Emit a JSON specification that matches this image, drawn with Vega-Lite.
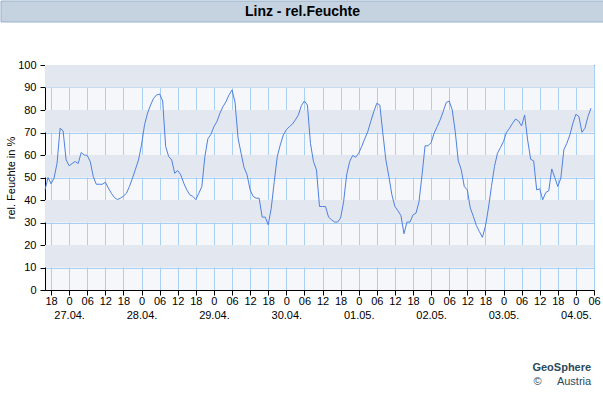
{
  "$schema": "https://vega.github.io/schema/vega-lite/v6.json",
  "padding": 0,
  "background": "white",
  "spacing": 35,
  "config": {
    "font": "Liberation Sans",
    "view": {"stroke": null},
    "axis": {
      "domainColor": "#000", "tickColor": "#000", "labelColor": "#000", "titleColor": "#000",
      "labelFont": "Liberation Sans", "titleFont": "Liberation Sans",
      "labelFontSize": 11, "titleFontSize": 11, "titleFontWeight": "normal",
      "tickSize": 5, "gridColor": "#a8d0f2", "gridOpacity": 1, "zindex": 1
    }
  },
  "datasets": {
    "head": [{"label": "Linz - rel.Feuchte"}],
    "bands": [{"lo": 10, "hi": 20}, {"lo": 30, "hi": 40}, {"lo": 50, "hi": 60}, {"lo": 70, "hi": 80}, {"lo": 90, "hi": 100}],
    "rh": [
      {"t": "2024-04-26T16:00Z", "v": 44.5}, {"t": "2024-04-26T17:00Z", "v": 50}, {"t": "2024-04-26T18:00Z", "v": 47.2}, {"t": "2024-04-26T19:00Z", "v": 49.7},
      {"t": "2024-04-26T20:00Z", "v": 56.4}, {"t": "2024-04-26T21:00Z", "v": 71.9}, {"t": "2024-04-26T22:00Z", "v": 70.7}, {"t": "2024-04-26T23:00Z", "v": 57.8},
      {"t": "2024-04-27T00:00Z", "v": 55.2}, {"t": "2024-04-27T01:00Z", "v": 56.2}, {"t": "2024-04-27T02:00Z", "v": 57.1}, {"t": "2024-04-27T03:00Z", "v": 56.2},
      {"t": "2024-04-27T04:00Z", "v": 61.1}, {"t": "2024-04-27T05:00Z", "v": 60}, {"t": "2024-04-27T06:00Z", "v": 59.8}, {"t": "2024-04-27T07:00Z", "v": 57.1},
      {"t": "2024-04-27T08:00Z", "v": 50.4}, {"t": "2024-04-27T09:00Z", "v": 47}, {"t": "2024-04-27T10:00Z", "v": 47}, {"t": "2024-04-27T11:00Z", "v": 47},
      {"t": "2024-04-27T12:00Z", "v": 47.9}, {"t": "2024-04-27T13:00Z", "v": 45.3}, {"t": "2024-04-27T14:00Z", "v": 43}, {"t": "2024-04-27T15:00Z", "v": 41.1},
      {"t": "2024-04-27T16:00Z", "v": 40.2}, {"t": "2024-04-27T17:00Z", "v": 40.8}, {"t": "2024-04-27T18:00Z", "v": 41.7}, {"t": "2024-04-27T19:00Z", "v": 43},
      {"t": "2024-04-27T20:00Z", "v": 46}, {"t": "2024-04-27T21:00Z", "v": 49.7}, {"t": "2024-04-27T22:00Z", "v": 53.7}, {"t": "2024-04-27T23:00Z", "v": 57.8},
      {"t": "2024-04-28T00:00Z", "v": 64.5}, {"t": "2024-04-28T01:00Z", "v": 73.4}, {"t": "2024-04-28T02:00Z", "v": 78.6}, {"t": "2024-04-28T03:00Z", "v": 82.2},
      {"t": "2024-04-28T04:00Z", "v": 85.2}, {"t": "2024-04-28T05:00Z", "v": 86.7}, {"t": "2024-04-28T06:00Z", "v": 87.1}, {"t": "2024-04-28T07:00Z", "v": 84},
      {"t": "2024-04-28T08:00Z", "v": 63.8}, {"t": "2024-04-28T09:00Z", "v": 59.3}, {"t": "2024-04-28T10:00Z", "v": 57.8}, {"t": "2024-04-28T11:00Z", "v": 51.9},
      {"t": "2024-04-28T12:00Z", "v": 53.1}, {"t": "2024-04-28T13:00Z", "v": 51.2}, {"t": "2024-04-28T14:00Z", "v": 47.5}, {"t": "2024-04-28T15:00Z", "v": 44.5},
      {"t": "2024-04-28T16:00Z", "v": 42.3}, {"t": "2024-04-28T17:00Z", "v": 41.6}, {"t": "2024-04-28T18:00Z", "v": 40.2}, {"t": "2024-04-28T19:00Z", "v": 43},
      {"t": "2024-04-28T20:00Z", "v": 46}, {"t": "2024-04-28T21:00Z", "v": 59.3}, {"t": "2024-04-28T22:00Z", "v": 67.2}, {"t": "2024-04-28T23:00Z", "v": 69.2},
      {"t": "2024-04-29T00:00Z", "v": 72.6}, {"t": "2024-04-29T01:00Z", "v": 74.9}, {"t": "2024-04-29T02:00Z", "v": 78.6}, {"t": "2024-04-29T03:00Z", "v": 81.5},
      {"t": "2024-04-29T04:00Z", "v": 83.7}, {"t": "2024-04-29T05:00Z", "v": 86.7}, {"t": "2024-04-29T06:00Z", "v": 88.9}, {"t": "2024-04-29T07:00Z", "v": 83.4},
      {"t": "2024-04-29T08:00Z", "v": 67.5}, {"t": "2024-04-29T09:00Z", "v": 60.8}, {"t": "2024-04-29T10:00Z", "v": 54.4}, {"t": "2024-04-29T11:00Z", "v": 51.2},
      {"t": "2024-04-29T12:00Z", "v": 44.5}, {"t": "2024-04-29T13:00Z", "v": 41.6}, {"t": "2024-04-29T14:00Z", "v": 40.8}, {"t": "2024-04-29T15:00Z", "v": 40.8},
      {"t": "2024-04-29T16:00Z", "v": 32.4}, {"t": "2024-04-29T17:00Z", "v": 32.4}, {"t": "2024-04-29T18:00Z", "v": 29}, {"t": "2024-04-29T19:00Z", "v": 36.4},
      {"t": "2024-04-29T20:00Z", "v": 48.2}, {"t": "2024-04-29T21:00Z", "v": 59.3}, {"t": "2024-04-29T22:00Z", "v": 64.5}, {"t": "2024-04-29T23:00Z", "v": 68.9},
      {"t": "2024-04-30T00:00Z", "v": 71.2}, {"t": "2024-04-30T01:00Z", "v": 72.6}, {"t": "2024-04-30T02:00Z", "v": 73.7}, {"t": "2024-04-30T03:00Z", "v": 75.6},
      {"t": "2024-04-30T04:00Z", "v": 77.8}, {"t": "2024-04-30T05:00Z", "v": 82}, {"t": "2024-04-30T06:00Z", "v": 84}, {"t": "2024-04-30T07:00Z", "v": 82.2},
      {"t": "2024-04-30T08:00Z", "v": 65.2}, {"t": "2024-04-30T09:00Z", "v": 57.1}, {"t": "2024-04-30T10:00Z", "v": 53.4}, {"t": "2024-04-30T11:00Z", "v": 37.1},
      {"t": "2024-04-30T12:00Z", "v": 37.1}, {"t": "2024-04-30T13:00Z", "v": 37.1}, {"t": "2024-04-30T14:00Z", "v": 32.4}, {"t": "2024-04-30T15:00Z", "v": 31.2},
      {"t": "2024-04-30T16:00Z", "v": 30.2}, {"t": "2024-04-30T17:00Z", "v": 30.2}, {"t": "2024-04-30T18:00Z", "v": 32}, {"t": "2024-04-30T19:00Z", "v": 39.3},
      {"t": "2024-04-30T20:00Z", "v": 51.2}, {"t": "2024-04-30T21:00Z", "v": 57.1}, {"t": "2024-04-30T22:00Z", "v": 59.8}, {"t": "2024-04-30T23:00Z", "v": 59},
      {"t": "2024-05-01T00:00Z", "v": 60.8}, {"t": "2024-05-01T01:00Z", "v": 63.8}, {"t": "2024-05-01T02:00Z", "v": 67.2}, {"t": "2024-05-01T03:00Z", "v": 70.4},
      {"t": "2024-05-01T04:00Z", "v": 74.9}, {"t": "2024-05-01T05:00Z", "v": 79.3}, {"t": "2024-05-01T06:00Z", "v": 83}, {"t": "2024-05-01T07:00Z", "v": 82.2},
      {"t": "2024-05-01T08:00Z", "v": 69.7}, {"t": "2024-05-01T09:00Z", "v": 57.8}, {"t": "2024-05-01T10:00Z", "v": 50.4}, {"t": "2024-05-01T11:00Z", "v": 42.3},
      {"t": "2024-05-01T12:00Z", "v": 37.1}, {"t": "2024-05-01T13:00Z", "v": 35.2}, {"t": "2024-05-01T14:00Z", "v": 33.1}, {"t": "2024-05-01T15:00Z", "v": 25},
      {"t": "2024-05-01T16:00Z", "v": 30.2}, {"t": "2024-05-01T17:00Z", "v": 30.2}, {"t": "2024-05-01T18:00Z", "v": 33.4}, {"t": "2024-05-01T19:00Z", "v": 34.2},
      {"t": "2024-05-01T20:00Z", "v": 39.3}, {"t": "2024-05-01T21:00Z", "v": 51.2}, {"t": "2024-05-01T22:00Z", "v": 64.1}, {"t": "2024-05-01T23:00Z", "v": 64.1},
      {"t": "2024-05-02T00:00Z", "v": 65.5}, {"t": "2024-05-02T01:00Z", "v": 69.7}, {"t": "2024-05-02T02:00Z", "v": 72.6}, {"t": "2024-05-02T03:00Z", "v": 75.6},
      {"t": "2024-05-02T04:00Z", "v": 79.3}, {"t": "2024-05-02T05:00Z", "v": 83.3}, {"t": "2024-05-02T06:00Z", "v": 84}, {"t": "2024-05-02T07:00Z", "v": 80},
      {"t": "2024-05-02T08:00Z", "v": 70.4}, {"t": "2024-05-02T09:00Z", "v": 57.4}, {"t": "2024-05-02T10:00Z", "v": 53.4}, {"t": "2024-05-02T11:00Z", "v": 46},
      {"t": "2024-05-02T12:00Z", "v": 44.5}, {"t": "2024-05-02T13:00Z", "v": 36.4}, {"t": "2024-05-02T14:00Z", "v": 32.7}, {"t": "2024-05-02T15:00Z", "v": 28.7},
      {"t": "2024-05-02T16:00Z", "v": 26}, {"t": "2024-05-02T17:00Z", "v": 23.4}, {"t": "2024-05-02T18:00Z", "v": 28.3}, {"t": "2024-05-02T19:00Z", "v": 36.4},
      {"t": "2024-05-02T20:00Z", "v": 46}, {"t": "2024-05-02T21:00Z", "v": 54.9}, {"t": "2024-05-02T22:00Z", "v": 60.8}, {"t": "2024-05-02T23:00Z", "v": 63.3},
      {"t": "2024-05-03T00:00Z", "v": 66}, {"t": "2024-05-03T01:00Z", "v": 70.1}, {"t": "2024-05-03T02:00Z", "v": 71.9}, {"t": "2024-05-03T03:00Z", "v": 74.1},
      {"t": "2024-05-03T04:00Z", "v": 76}, {"t": "2024-05-03T05:00Z", "v": 75.1}, {"t": "2024-05-03T06:00Z", "v": 72.9}, {"t": "2024-05-03T07:00Z", "v": 77.8},
      {"t": "2024-05-03T08:00Z", "v": 66.7}, {"t": "2024-05-03T09:00Z", "v": 58.1}, {"t": "2024-05-03T10:00Z", "v": 57.4}, {"t": "2024-05-03T11:00Z", "v": 44.5},
      {"t": "2024-05-03T12:00Z", "v": 45}, {"t": "2024-05-03T13:00Z", "v": 40.1}, {"t": "2024-05-03T14:00Z", "v": 43.3}, {"t": "2024-05-03T15:00Z", "v": 44.1},
      {"t": "2024-05-03T16:00Z", "v": 53.8}, {"t": "2024-05-03T17:00Z", "v": 50}, {"t": "2024-05-03T18:00Z", "v": 46}, {"t": "2024-05-03T19:00Z", "v": 49.7},
      {"t": "2024-05-03T20:00Z", "v": 62.3}, {"t": "2024-05-03T21:00Z", "v": 65.2}, {"t": "2024-05-03T22:00Z", "v": 68.9}, {"t": "2024-05-03T23:00Z", "v": 74.1},
      {"t": "2024-05-04T00:00Z", "v": 78.1}, {"t": "2024-05-04T01:00Z", "v": 77.1}, {"t": "2024-05-04T02:00Z", "v": 70.1}, {"t": "2024-05-04T03:00Z", "v": 71.9},
      {"t": "2024-05-04T04:00Z", "v": 77.1}, {"t": "2024-05-04T05:00Z", "v": 80.8}
    ]
  },
  "vconcat": [
    {
      "width": 515,
      "height": 21,
      "data": {"name": "head"},
      "layer": [
        {"mark": {"type": "rect", "fill": "#c5d3e0", "stroke": "#98b1cb", "strokeWidth": 1, "xOffset": -44, "x2Offset": 44},
         "encoding": {"x": {"value": 0}, "x2": {"value": "width"}}},
        {"mark": {"type": "text", "fontSize": 14, "fontWeight": "bold", "color": "#000", "font": "Liberation Sans"}, "encoding": {"text": {"field": "label"}}}
      ]
    },
    {
      "width": 549,
      "height": 225,
      "view": {"stroke": "#000", "fill": "#f5f7fa"},
      "title": {
        "text": "GeoSphere",
        "subtitle": "©\u00a0\u00a0\u00a0\u00a0\u00a0Austria",
        "orient": "bottom", "anchor": "end", "dx": -9, "offset": 42,
        "font": "Liberation Sans", "fontSize": 11, "fontWeight": "bold", "color": "#2c4a5a",
        "subtitleFont": "Liberation Sans", "subtitleFontSize": 11, "subtitleColor": "#2c4a5a", "subtitlePadding": 3
      },
      "layer": [
        {
          "data": {"name": "bands"},
          "mark": {"type": "rect", "color": "#e3e8f0"},
          "encoding": {
            "y": {"field": "lo", "type": "quantitative", "scale": {"domain": [0, 100], "nice": false},
                  "axis": {"title": "rel. Feuchte in %", "values": [0, 10, 20, 30, 40, 50, 60, 70, 80, 90, 100], "grid": true, "labelPadding": 4, "titlePadding": 1}},
            "y2": {"field": "hi"}
          }
        },
        {
          "data": {"name": "rh"},
          "mark": {"type": "line", "color": "#4f80e1", "strokeWidth": 1},
          "encoding": {
            "x": {"field": "t", "type": "temporal",
                  "scale": {"type": "utc", "domain": [1714147200000, 1714802400000], "nice": false},
                  "axis": {"title": null, "grid": true,
                           "values": [1714154400000, 1714176000000, 1714197600000, 1714219200000, 1714240800000, 1714262400000, 1714284000000, 1714305600000, 1714327200000, 1714348800000, 1714370400000, 1714392000000, 1714413600000, 1714435200000, 1714456800000, 1714478400000, 1714500000000, 1714521600000, 1714543200000, 1714564800000, 1714586400000, 1714608000000, 1714629600000, 1714651200000, 1714672800000, 1714694400000, 1714716000000, 1714737600000, 1714759200000, 1714780800000, 1714802400000],
                           "labelExpr": "utchours(datum.value) == 0 ? ['0', utcFormat(datum.value, '%d.%m.')] : utcFormat(datum.value, '%H')",
                           "labelOverlap": false, "labelFlush": false, "labelBound": false, "labelLineHeight": 14, "labelPadding": 0}},
            "y": {"field": "v", "type": "quantitative", "scale": {"domain": [0, 100], "nice": false},
                  "axis": {"title": "rel. Feuchte in %", "values": [0, 10, 20, 30, 40, 50, 60, 70, 80, 90, 100], "grid": true, "labelPadding": 4, "titlePadding": 1}}
          }
        }
      ]
    }
  ]
}
